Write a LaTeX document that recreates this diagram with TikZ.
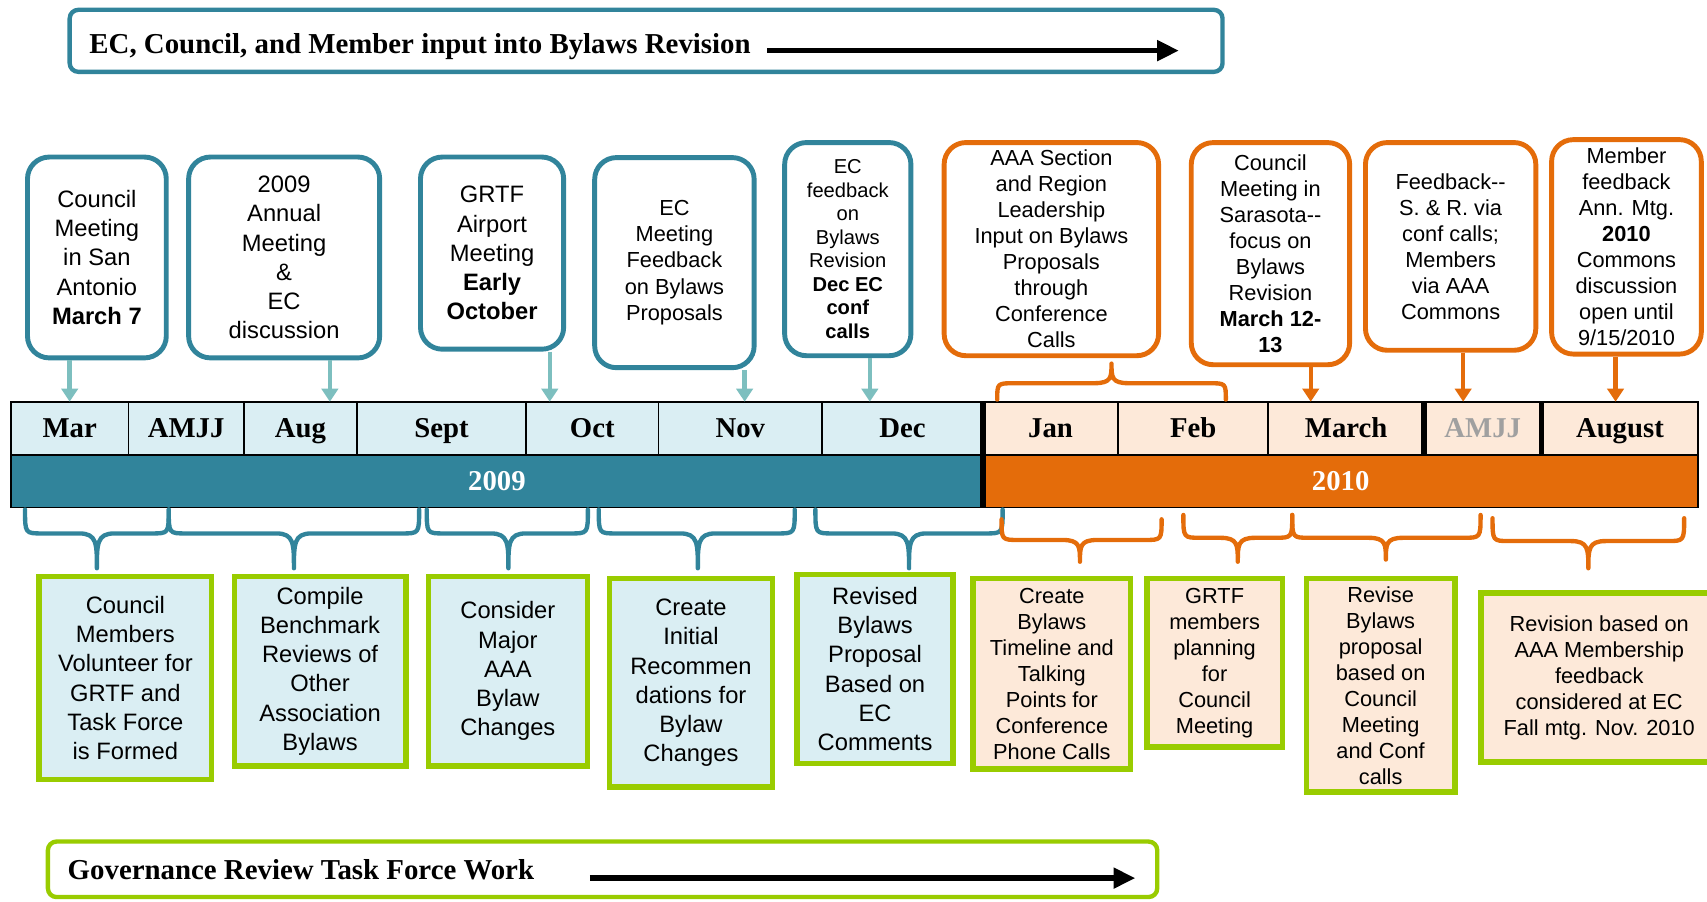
\documentclass[tikz,border=0pt]{standalone}
\usepackage{fontspec}
\setmainfont{Liberation Serif}
\setsansfont{Liberation Sans}
\usetikzlibrary{arrows.meta}
\definecolor{tealline}{HTML}{31849B}
\definecolor{tealarrow}{HTML}{7DBFBF}
\definecolor{orangeline}{HTML}{E46C0A}
\definecolor{greenline}{HTML}{99CC00}
\definecolor{cellblue}{HTML}{DAEEF3}
\definecolor{cellpeach}{HTML}{FDE9D9}
\definecolor{greytext}{HTML}{A0A0A0}
\tikzset{%
  txtl/.style      = {font=\sffamily\fontsize{21.8}{26.8}\selectfont},%
  txtm/.style      = {font=\sffamily\fontsize{20}{23.9}\selectfont},%
  txts/.style      = {font=\sffamily\fontsize{18.5}{21.6}\selectfont},%
  evbox/.style     = {shape=rectangle, rounded corners=20pt, draw=tealline, line width=4.5pt,%
                      fill=white, align=center, inner sep=0pt, txtl},%
  evboxb/.style    = {evbox, draw=orangeline},%
  taskbox/.style   = {shape=rectangle, draw=greenline, line width=5pt, fill=cellblue,%
                      align=center, inner sep=0pt, txtl},%
  taskboxb/.style  = {taskbox, fill=cellpeach},%
  monthcell/.style = {shape=rectangle, draw=black, line width=1.5pt, fill=cellblue,%
                      inner sep=0pt, outer sep=0pt, minimum height=49pt, anchor=north west,%
                      text height=21pt, text depth=3.5pt,%
                      font=\bfseries\fontsize{26.4}{30}\selectfont},%
  yearcell/.style  = {monthcell, minimum height=48pt, text=white, fill=tealline},%
  banner/.style    = {shape=rectangle, rounded corners=8pt, line width=4pt, fill=white},%
  bannertxt/.style = {inner sep=0pt, anchor=base west, font=\bfseries\fontsize{26.5}{30}\selectfont},%
  divider/.style   = {line width=5pt},%
  tlarrow/.style   = {draw=tealarrow, line width=4pt, -{Triangle[length=12pt,width=15pt]}},%
  olarrow/.style   = {tlarrow, draw=orangeline},%
  bigarrow/.style  = {line width=5pt, -{Triangle[length=20pt,width=18pt]}},%
  tbrace/.style    = {draw=tealline, line width=4pt, line cap=round, line join=round},%
  obrace/.style    = {tbrace, draw=orangeline}%
}
% left x, right x, tip x, end y, bar y, tip y
\newcommand{\tlbrace}[6]{%
  (#1,#4) .. controls (#1,#5) .. (#1+16,#5) -- (#3-16,#5)
  .. controls (#3,#5) and (#3,{#5+0.3*(#6-#5)}) .. (#3,#6)
  .. controls (#3,{#5+0.3*(#6-#5)}) and (#3,#5) .. (#3+16,#5) -- (#2-16,#5)
  .. controls (#2,#5) .. (#2,#4)}

\begin{document}
\begin{tikzpicture}[x=1pt,y=-1pt]
	\useasboundingbox (0,0) rectangle (1568,828);
	\node[banner, draw=tealline, minimum width=1059pt, minimum height=57pt] (inputbox) at (593.5,37.5) {};
	\node[bannertxt] (inputtxt) at (82,49) {EC, Council, and Member input into Bylaws Revision};
	\coordinate (inputend) at (1083,46.5);
	\draw[bigarrow] ([xshift=15pt,yshift=2.5pt]inputtxt.base east) -- (inputend);

	\node[monthcell, minimum width=108pt] (mar) at (10,369) {Mar};
	\node[monthcell, minimum width=106pt] (amjja) at (mar.north east) {AMJJ};
	\node[monthcell, minimum width=104pt] (aug) at (amjja.north east) {Aug};
	\node[monthcell, minimum width=155pt] (sept) at (aug.north east) {Sept};
	\node[monthcell, minimum width=122pt] (oct) at (sept.north east) {Oct};
	\node[monthcell, minimum width=150pt] (nov) at (oct.north east) {Nov};
	\node[monthcell, minimum width=148pt] (dec) at (nov.north east) {Dec};
	\node[monthcell, minimum width=124pt, fill=cellpeach] (jan) at (dec.north east) {Jan};
	\node[monthcell, minimum width=138pt, fill=cellpeach] (feb) at (jan.north east) {Feb};
	\node[monthcell, minimum width=143pt, fill=cellpeach] (march) at (feb.north east) {March};
	\node[monthcell, minimum width=108pt, fill=cellpeach, text=greytext] (amjjb) at (march.north east) {AMJJ};
	\node[monthcell, minimum width=144pt, fill=cellpeach] (august) at (amjjb.north east) {August};
	\node[yearcell, minimum width=893pt] (y09) at (mar.south west) {2009};
	\node[yearcell, minimum width=657pt, fill=orangeline] (y10) at (y09.north east) {2010};
	\draw[divider] (dec.north east) -- (y09.south east);
	\draw[divider] (march.north east) -- (march.south east);
	\draw[divider] (amjjb.north east) -- (amjjb.south east);

	\node[evbox, minimum width=127.5pt, minimum height=184.5pt] (sanantonio) at (89,236.5)
		{Council\\Meeting\\in San\\Antonio\\\textbf{March 7}};
	\node[evbox, minimum width=175.5pt, minimum height=184.5pt] (annual) at (261,236.5)
		{2009\\Annual\\Meeting\\\&\\EC\\discussion};
	\node[evbox, minimum width=131.5pt, minimum height=176.5pt] (airport) at (452,232.5)
		{GRTF\\Airport\\Meeting\\\textbf{Early}\\\textbf{October}};
	\node[evbox, txtm, minimum width=146.5pt, minimum height=193pt] (ecmeeting) at (619.5,241.25)
		{EC\\Meeting\\Feedback\\on Bylaws\\Proposals};
	\node[evbox, txts, minimum width=116pt, minimum height=195.8pt] (ecfeedback) at (778.75,228.85)
		{EC\\feedback\\on\\Bylaws\\Revision\\\textbf{Dec EC}\\\textbf{conf}\\\textbf{calls}};
	\node[evboxb, txtm, minimum width=197pt, minimum height=195.8pt] (leadership) at (965.75,228.85)
		{AAA Section\\and Region\\Leadership\\Input on Bylaws\\Proposals\\through\\Conference\\Calls};
	\node[evboxb, txtm, minimum width=145.5pt, minimum height=204pt] (sarasota) at (1167,233)
		{Council\\Meeting in\\Sarasota-{}-\\focus on\\Bylaws\\Revision\\\textbf{March 12-}\\\textbf{13}};
	\node[evboxb, txtm, minimum width=156.5pt, minimum height=190.8pt] (commons) at (1332.5,226.35)
		{Feedback-{}-\\S. \& R. via\\conf calls;\\Members\\via AAA\\Commons};
	\node[evboxb, txtm, minimum width=137.5pt, minimum height=197pt] (annmtg) at (1494,226.75)
		{Member\\feedback\\Ann. Mtg.\\\textbf{2010}\\Commons\\discussion\\open until\\9/15/2010};

	\draw[tlarrow] (sanantonio.south -| mar.north) -- (mar.north);
	\draw[tlarrow] (annual.south -| 303,0) -- (aug.north -| 303,0);
	\draw[tlarrow] (airport.south -| 505,0) -- (oct.north -| 505,0);
	\draw[tlarrow] (ecmeeting.south -| 684,0) -- (nov.north -| 684,0);
	\draw[tlarrow] (ecfeedback.south -| 799,0) -- (dec.north -| 799,0);
	\draw[olarrow] (sarasota.south -| 1204,0) -- (march.north -| 1204,0);
	\draw[olarrow] (commons.south -| 1344,0) -- (amjjb.north -| 1344,0);
	\draw[olarrow] (annmtg.south -| 1484,0) -- (august.north -| 1484,0);
	\draw[obrace] \tlbrace{916}{1126}{1021}{367}{352}{334};

	\draw[tbrace] \tlbrace{23}{155}{89}{468}{490}{522};
	\draw[tbrace] \tlbrace{155}{385}{270}{468}{490}{522};
	\draw[tbrace] \tlbrace{392}{540}{467}{468}{490}{522};
	\draw[tbrace] \tlbrace{550}{730}{641}{468}{490}{522};
	\draw[tbrace] \tlbrace{749}{921}{835}{468}{490}{522};
	\draw[obrace] \tlbrace{920}{1067}{992}{477}{496}{516};
	\draw[obrace] \tlbrace{1087}{1187}{1137}{473}{494}{516};
	\draw[obrace] \tlbrace{1187}{1360}{1273}{473}{494}{514};
	\draw[obrace] \tlbrace{1371}{1547}{1459}{476}{497}{522};

	\node[taskbox, minimum width=158.6pt, minimum height=186.5pt] (volunteer) at (115.2,622.75)
		{Council\\Members\\Volunteer for\\GRTF and\\Task Force\\is Formed};
	\node[taskbox, minimum width=157.7pt, minimum height=174pt] (benchmark) at (294,616.5)
		{Compile\\Benchmark\\Reviews of\\Other\\Association\\Bylaws};
	\node[taskbox, minimum width=146pt, minimum height=174pt] (consider) at (466.5,616.5)
		{Consider\\Major\\AAA\\Bylaw\\Changes};
	\node[taskbox, minimum width=149.6pt, minimum height=191.5pt] (initial) at (634.7,627.25)
		{Create\\Initial\\Recommen\\dations for\\Bylaw\\Changes};
	\node[taskbox, minimum width=143.4pt, minimum height=174pt] (revised) at (803.8,614.5)
		{Revised\\Bylaws\\Proposal\\Based on\\EC\\Comments};
	\node[taskboxb, txtm, minimum width=144.6pt, minimum height=174.7pt] (timeline) at (966.2,618.85)
		{Create\\Bylaws\\Timeline and\\Talking\\Points for\\Conference\\Phone Calls};
	\node[taskboxb, txtm, minimum width=124.4pt, minimum height=154.8pt] (planning) at (1115.7,608.9)
		{GRTF\\members\\planning\\for\\Council\\Meeting};
	\node[taskboxb, txtm, minimum width=136.6pt, minimum height=196pt] (revise) at (1268.2,629.5)
		{Revise\\Bylaws\\proposal\\based on\\Council\\Meeting\\and Conf\\calls};
	\node[taskboxb, txtm, minimum width=217pt, minimum height=155.6pt] (membership) at (1469,622.3)
		{Revision based on\\AAA Membership\\feedback\\considered at EC\\Fall mtg. Nov. 2010};

	\node[banner, draw=greenline, minimum width=1019pt, minimum height=51pt] (grtfbox) at (553.5,798.5) {};
	\node[bannertxt] (grtftxt) at (62,808) {Governance Review Task Force Work};
	\coordinate (grtfend) at (1043,806.6);
	\draw[bigarrow] ([xshift=51pt,yshift=1.4pt]grtftxt.base east) -- (grtfend);
\end{tikzpicture}
\end{document}
